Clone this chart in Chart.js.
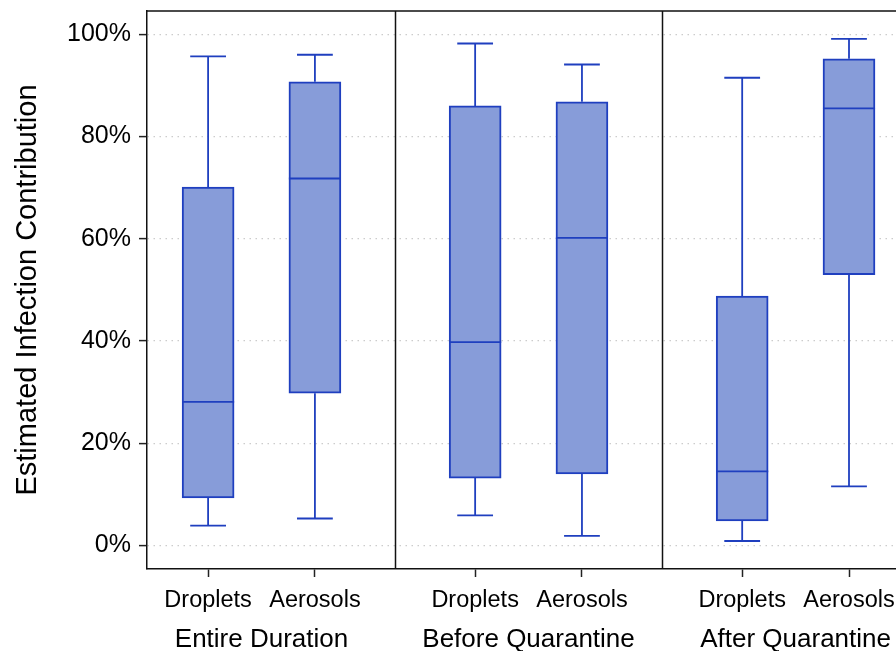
<!DOCTYPE html>
<html>
<head>
<meta charset="utf-8">
<script src="https://cdn.jsdelivr.net/npm/chart.js@4"></script>
<style>
  html, body { margin: 0; padding: 0; background: #fff; }
  #wrap { width: 896px; height: 651px; }
</style>
</head>
<body>
<div id="wrap"><canvas id="boxChart"></canvas></div>
<script>
// groups (panels) and the two categories in each
const groups = ["Entire Duration", "Before Quarantine", "After Quarantine"];
const categories = ["Droplets", "Aerosols"];

// box stats per group, order: Droplets, Aerosols (percent)
const whiskerLow = [[3.9, 5.3], [5.9, 1.9], [0.9, 11.6]];
const q1 = [[9.3, 29.8], [13.2, 14.0], [4.8, 53.0]];
const median = [[28.1, 71.8], [39.8, 60.2], [14.5, 85.5]];
const q3 = [[70.1, 90.7], [86.0, 86.8], [48.8, 95.2]];
const whiskerHigh = [[95.7, 96.0], [98.2, 94.1], [91.5, 99.1]];

const yTicks = [0, 20, 40, 60, 80, 100];

// x positions inside each panel (panel i spans [i, i+1])
const catOffset = [0.3, 0.7];

const fillColor = "#879cd9";
const lineColor = "#1f3fbf";
const font = "'Liberation Sans', Arial, sans-serif";

const boxPoints = [];
const tickPos = [];
const tickText = [];
groups.forEach(function (g, gi) {
  categories.forEach(function (c, ci) {
    const x = gi + catOffset[ci];
    boxPoints.push({ x: x, y: [q1[gi][ci], q3[gi][ci]], gi: gi, ci: ci });
    tickPos.push(x);
    tickText.push(c);
  });
});

function noPad(scale) {
  scale.paddingTop = 0;
  scale.paddingBottom = 0;
  scale.paddingLeft = 0;
  scale.paddingRight = 0;
}

const whiskerPlugin = {
  id: "whiskers",
  afterDatasetsDraw(chart) {
    const ctx = chart.ctx;
    const xs = chart.scales.x;
    const ys = chart.scales.y;
    const area = chart.chartArea;
    ctx.save();
    ctx.strokeStyle = lineColor;
    ctx.lineWidth = 1.8;
    boxPoints.forEach(function (p) {
      const gi = p.gi, ci = p.ci;
      const px = xs.getPixelForValue(p.x);
      const halfCap = xs.getPixelForValue(p.x + 0.067) - px;
      const halfBox = xs.getPixelForValue(p.x + 0.0975) - px;
      const yLo = ys.getPixelForValue(whiskerLow[gi][ci]);
      const yQ1 = ys.getPixelForValue(q1[gi][ci]);
      const yQ3 = ys.getPixelForValue(q3[gi][ci]);
      const yHi = ys.getPixelForValue(whiskerHigh[gi][ci]);
      const yMed = ys.getPixelForValue(median[gi][ci]);
      ctx.beginPath();
      ctx.moveTo(px, yQ3); ctx.lineTo(px, yHi);
      ctx.moveTo(px - halfCap, yHi); ctx.lineTo(px + halfCap, yHi);
      ctx.moveTo(px, yQ1); ctx.lineTo(px, yLo);
      ctx.moveTo(px - halfCap, yLo); ctx.lineTo(px + halfCap, yLo);
      ctx.moveTo(px - halfBox, yMed); ctx.lineTo(px + halfBox, yMed);
      ctx.stroke();
    });
    // panel frame: top line and dividers
    ctx.strokeStyle = "#111";
    ctx.lineWidth = 1.5;
    ctx.beginPath();
    ctx.moveTo(area.left, area.top); ctx.lineTo(area.right, area.top);
    for (let i = 1; i < groups.length; i++) {
      const dx = Math.round(xs.getPixelForValue(i)) + 0.5;
      ctx.moveTo(dx, area.top); ctx.lineTo(dx, area.bottom);
    }
    ctx.stroke();
    ctx.restore();
  }
};

new Chart(document.getElementById("boxChart"), {
  type: "bar",
  data: {
    datasets: [{
      data: boxPoints,
      backgroundColor: fillColor,
      borderColor: lineColor,
      borderWidth: 2,
      borderSkipped: false,
      barThickness: 52
    }]
  },
  options: {
    responsive: true,
    maintainAspectRatio: false,
    animation: false,
    layout: { padding: { top: 11, left: 11, right: 0, bottom: 0 } },
    plugins: { legend: { display: false }, tooltip: { enabled: false } },
    scales: {
      x: {
        type: "linear",
        offset: false,
        min: 0.0712,
        max: 2.876,
        afterBuildTicks: function (scale) {
          scale.ticks = tickPos.map(function (v) { return { value: v }; });
        },
        afterFit: function (scale) { scale.height = 45; noPad(scale); },
        ticks: {
          autoSkip: false,
          maxRotation: 0,
          padding: 9,
          color: "#000",
          font: { family: font, size: 23.5 },
          callback: function (value, index) { return tickText[index]; }
        },
        grid: { offset: false, drawOnChartArea: false, tickLength: 8, tickColor: "#222", tickWidth: 1.5 },
        border: { color: "#111", width: 1.5 }
      },
      x2: {
        type: "linear",
        position: "bottom",
        offset: false,
        min: 0.0712,
        max: 2.876,
        afterBuildTicks: function (scale) {
          scale.ticks = groups.map(function (g, i) { return { value: i + 0.5 }; });
        },
        afterFit: function (scale) { scale.height = 37; noPad(scale); },
        ticks: {
          autoSkip: false,
          maxRotation: 0,
          padding: 10,
          color: "#000",
          font: { family: font, size: 26 },
          callback: function (value, index) { return groups[index]; }
        },
        grid: { display: false, drawTicks: false },
        border: { display: false }
      },
      y: {
        min: -4.58,
        max: 104.56,
        afterBuildTicks: function (scale) {
          scale.ticks = yTicks.map(function (v) { return { value: v }; });
        },
        afterFit: function (scale) { scale.width = 136; noPad(scale); },
        ticks: {
          padding: 8,
          color: "#000",
          font: { family: font, size: 25 },
          callback: function (value) { return value + "%"; }
        },
        grid: {
          color: "#cccccc",
          lineWidth: 1.2,
          tickLength: 8,
          tickColor: "#222",
          tickWidth: 1.5,
          tickBorderDash: []
        },
        border: { color: "#111", width: 1.5, dash: [1.5, 4.5] },
        title: {
          display: true,
          text: "Estimated Infection Contribution",
          color: "#000",
          padding: 0,
          font: { family: font, size: 29 }
        }
      }
    }
  },
  plugins: [whiskerPlugin]
});
</script>
</body>
</html>
